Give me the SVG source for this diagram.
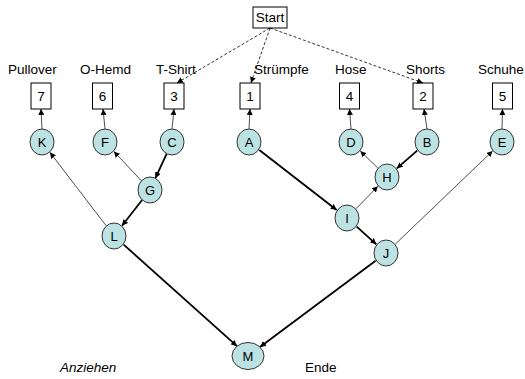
<svg xmlns="http://www.w3.org/2000/svg" width="525" height="379" viewBox="0 0 525 379">
  <style>
    text { font-family: "Liberation Sans", Arial, sans-serif; font-size: 13.5px; fill: #000; }
    .box rect { fill: #fff; stroke: #000; stroke-width: 1; }
    .box text { text-anchor: middle; }
    .box text.lbl { text-anchor: start; }
    .node ellipse { fill: #bde2e4; stroke: #333; stroke-width: 1; }
    .node text { text-anchor: middle; font-size: 13px; }
    .thin { stroke: #000; stroke-width: 0.7; fill: none; marker-end: url(#ah); }
    .thick { stroke: #000; stroke-width: 1.8; fill: none; marker-end: url(#ah); }
    .dash { stroke: #000; stroke-width: 0.8; fill: none; stroke-dasharray: 3 2; marker-end: url(#ah); }
  </style>
  <defs>
    <marker id="ah" markerUnits="userSpaceOnUse" markerWidth="7" markerHeight="6" refX="6" refY="3" orient="auto">
      <path d="M0,0 L6,3 L0,6 z" fill="#000"/>
    </marker>
  </defs>

  <rect width="525" height="379" fill="#fff"/>

  <!-- start node -->
  <g id="start" class="box">
    <rect x="253" y="7" width="34" height="21"/>
    <text x="270" y="22">Start</text>
  </g>

  <!-- garment slots with their order numbers -->
  <g id="slot-pullover" class="box">
    <text class="lbl" x="8" y="74">Pullover</text>
    <rect x="31" y="83" width="20" height="26"/>
    <text x="41" y="101">7</text>
  </g>
  <g id="slot-ohemd" class="box">
    <text class="lbl" x="80" y="74">O-Hemd</text>
    <rect x="92.5" y="83" width="20" height="26"/>
    <text x="102.5" y="101">6</text>
  </g>
  <g id="slot-tshirt" class="box">
    <text class="lbl" x="156" y="74">T-Shirt</text>
    <rect x="164" y="83" width="20" height="26"/>
    <text x="174" y="101">3</text>
  </g>
  <g id="slot-struempfe" class="box">
    <text class="lbl" x="254" y="74">Strümpfe</text>
    <rect x="240" y="83" width="20" height="26"/>
    <text x="250" y="101">1</text>
  </g>
  <g id="slot-hose" class="box">
    <text class="lbl" x="335" y="74">Hose</text>
    <rect x="339.5" y="83" width="20" height="26"/>
    <text x="349.5" y="101">4</text>
  </g>
  <g id="slot-shorts" class="box">
    <text class="lbl" x="406" y="74">Shorts</text>
    <rect x="413" y="83" width="20" height="26"/>
    <text x="423" y="101">2</text>
  </g>
  <g id="slot-schuhe" class="box">
    <text class="lbl" x="478" y="74">Schuhe</text>
    <rect x="492.5" y="83" width="20" height="26"/>
    <text x="502.5" y="101">5</text>
  </g>

  <!-- connectors -->
  <g id="edges">
    <line class="dash" x1="270" y1="28" x2="177" y2="83"/>
    <line class="dash" x1="270" y1="28" x2="251" y2="83"/>
    <line class="dash" x1="270" y1="28" x2="423" y2="83"/>

    <line class="thin" x1="42" y1="129" x2="41" y2="109"/>
    <line class="thin" x1="105" y1="129" x2="103" y2="109"/>
    <line class="thin" x1="172" y1="129" x2="174" y2="109"/>
    <line class="thin" x1="249" y1="129" x2="250" y2="109"/>
    <line class="thin" x1="351" y1="129" x2="349.5" y2="109"/>
    <line class="thin" x1="427" y1="129" x2="424" y2="109"/>
    <line class="thin" x1="502" y1="129" x2="502.5" y2="109"/>

    <line class="thick" x1="166.6" y1="153.8" x2="155.4" y2="178.2"/>
    <line class="thin" x1="141.5" y1="180.9" x2="113.9" y2="151.5"/>
    <line class="thick" x1="142.3" y1="199.8" x2="122" y2="225.8"/>
    <line class="thin" x1="106.1" y1="225.7" x2="49.9" y2="152.3"/>
    <line class="thick" x1="123.7" y1="244.7" x2="237" y2="346.2"/>

    <line class="thick" x1="259.3" y1="150" x2="336.7" y2="210"/>
    <line class="thin" x1="356.1" y1="208.7" x2="377.9" y2="186.3"/>
    <line class="thin" x1="377.7" y1="167.9" x2="360.3" y2="151.1"/>
    <line class="thick" x1="417.2" y1="150.6" x2="396.8" y2="168.4"/>
    <line class="thick" x1="356.7" y1="226.7" x2="376.3" y2="244.3"/>
    <line class="thin" x1="395.4" y1="244" x2="492.6" y2="151"/>
    <line class="thick" x1="375.6" y1="260.8" x2="260" y2="347"/>
  </g>

  <!-- task nodes -->
  <g id="K" class="node"><ellipse cx="42" cy="142" rx="12" ry="13"/><text x="42" y="147">K</text></g>
  <g id="F" class="node"><ellipse cx="105" cy="142" rx="12" ry="13"/><text x="105" y="147">F</text></g>
  <g id="C" class="node"><ellipse cx="172" cy="142" rx="12" ry="13"/><text x="172" y="147">C</text></g>
  <g id="A" class="node"><ellipse cx="249" cy="142" rx="12" ry="13"/><text x="249" y="147">A</text></g>
  <g id="D" class="node"><ellipse cx="351" cy="142" rx="12" ry="13"/><text x="351" y="147">D</text></g>
  <g id="B" class="node"><ellipse cx="427" cy="142" rx="12" ry="13"/><text x="427" y="147">B</text></g>
  <g id="E" class="node"><ellipse cx="502" cy="142" rx="12" ry="13"/><text x="502" y="147">E</text></g>
  <g id="G" class="node"><ellipse cx="150" cy="190" rx="12" ry="13"/><text x="150" y="195">G</text></g>
  <g id="L" class="node"><ellipse cx="114" cy="236" rx="12" ry="13"/><text x="114" y="241">L</text></g>
  <g id="H" class="node"><ellipse cx="387" cy="177" rx="12" ry="13"/><text x="387" y="182">H</text></g>
  <g id="I" class="node"><ellipse cx="347" cy="218" rx="12" ry="13"/><text x="347" y="223">I</text></g>
  <g id="J" class="node"><ellipse cx="386" cy="253" rx="12" ry="13"/><text x="386" y="258">J</text></g>
  <g id="M" class="node"><ellipse cx="248" cy="356" rx="16" ry="13.5"/><text x="248" y="361">M</text></g>

  <text x="305" y="372">Ende</text>
  <text x="60" y="372" style="font-style:italic">Anziehen</text>
</svg>
